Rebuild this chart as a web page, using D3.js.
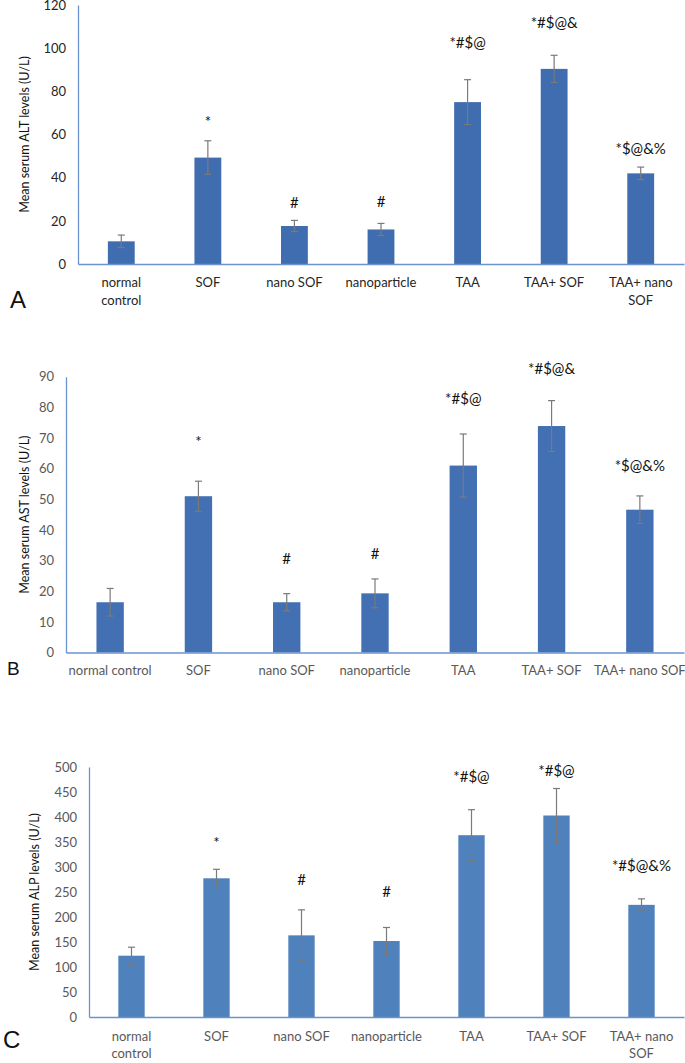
<!DOCTYPE html>
<html>
<head>
<meta charset="utf-8">
<script src="https://cdn.jsdelivr.net/npm/d3@7"></script>
<style>
  body { margin: 0; background: #fff; }
  svg { display: block; font-family: Lato, 'Open Sans', sans-serif; }
</style>
</head>
<body>
<svg id="chart" width="685" height="1063"></svg>
<script>
const CATEGORIES = ['normal control', 'SOF', 'nano SOF', 'nanoparticle', 'TAA', 'TAA+ SOF', 'TAA+ nano SOF'];

// panel A - ALT
const ALT_MEAN = [10.5, 49.3, 17.6, 16.0, 75.0, 90.4, 42.0];
const ALT_ERR = [2.9, 7.8, 2.6, 2.8, 10.4, 6.3, 2.9];
const ALT_MARKS = ['', '*', '#', '#', '*#$@', '*#$@&', '*$@&%'];
const ALT_MARK_AT = [0, 65.7, 28.2, 28.8, 102.5, 111.7, 53.2];
const ALT_TICKS = [0, 20, 40, 60, 80, 100, 120];

// panel B - AST
const AST_MEAN = [16.4, 51.0, 16.4, 19.3, 61.0, 73.9, 46.6];
const AST_ERR = [4.5, 4.9, 2.8, 4.7, 10.3, 8.3, 4.5];
const AST_MARKS = ['', '*', '#', '#', '*#$@', '*#$@&', '*$@&%'];
const AST_MARK_AT = [0, 68.7, 30.7, 32.3, 82.9, 92.7, 61.1];
const AST_TICKS = [0, 10, 20, 30, 40, 50, 60, 70, 80, 90];

// panel C - ALP
const ALP_MEAN = [122.6, 277.4, 163.3, 152.0, 363.6, 403.0, 224.3];
const ALP_ERR = [17, 18, 51, 27, 51, 54, 12];
const ALP_MARKS = ['', '*', '#', '#', '*#$@', '*#$@', '*#$@&%'];
const ALP_MARK_AT = [0, 348, 275, 250, 480, 493, 303];
const ALP_TICKS = [0, 50, 100, 150, 200, 250, 300, 350, 400, 450, 500];

const svg = d3.select('#chart');

const panels = [
  { letter: 'A', title: 'Mean serum ALT levels (U/L)', mean: ALT_MEAN, err: ALT_ERR, marks: ALT_MARKS, markAt: ALT_MARK_AT, ticks: ALT_TICKS,
    left: 78, right: 684, top: 5, bottom: 264, wrap: true, lineGap: 17.5, labelOffset: 23,
    barColor: '#3f6db0', textColor: '#262626', titleX: 25, letterX: 10, letterY: 308, letterSize: 24 },
  { letter: 'B', title: 'Mean serum AST levels (U/L)', mean: AST_MEAN, err: AST_ERR, marks: AST_MARKS, markAt: AST_MARK_AT, ticks: AST_TICKS,
    left: 66, right: 684, top: 376.7, bottom: 652.5, wrap: false, lineGap: 0, labelOffset: 22,
    barColor: '#4270b2', textColor: '#595959', titleX: 25, letterX: 7, letterY: 675, letterSize: 19 },
  { letter: 'C', title: 'Mean serum ALP levels (U/L)', mean: ALP_MEAN, err: ALP_ERR, marks: ALP_MARKS, markAt: ALP_MARK_AT, ticks: ALP_TICKS,
    left: 89, right: 684, top: 767, bottom: 1017, wrap: true, lineGap: 16.7, labelOffset: 24,
    barColor: '#4f81bd', textColor: '#595959', titleX: 35, letterX: 3, letterY: 1048, letterSize: 24 }
];

const AXIS_COLOR = '#6a93cf';

function drawPanel(p) {
  const g = svg.append('g');
  const data = CATEGORIES.map((c, i) => ({ cat: c, mean: p.mean[i], err: p.err[i], mark: p.marks[i], at: p.markAt[i] }));

  const x = d3.scaleBand().domain(CATEGORIES).range([p.left, p.right]).paddingInner(0.69).paddingOuter(0.345);
  const y = d3.scaleLinear().domain([0, d3.max(p.ticks)]).range([p.bottom, p.top]);

  // y axis
  const yAxis = g.append('g')
    .attr('transform', `translate(${p.left},0)`)
    .call(d3.axisLeft(y).tickValues(p.ticks).tickSize(0).tickPadding(12).tickSizeOuter(0));
  yAxis.select('.domain').attr('stroke', AXIS_COLOR).attr('stroke-width', 1.3);
  yAxis.selectAll('text').attr('font-size', 13).attr('fill', p.textColor).attr('font-family', 'Lato, sans-serif');

  // bars
  g.selectAll('.bar').data(data).enter().append('rect')
    .attr('class', 'bar')
    .attr('x', d => x(d.cat))
    .attr('width', x.bandwidth())
    .attr('y', d => y(d.mean))
    .attr('height', d => y(0) - y(d.mean))
    .attr('fill', p.barColor);

  // error bars
  const eb = g.selectAll('.err').data(data).enter().append('g').attr('class', 'err')
    .attr('stroke', '#7a7a7a').attr('stroke-width', 1.2);
  eb.append('line')
    .attr('x1', d => x(d.cat) + x.bandwidth() / 2).attr('x2', d => x(d.cat) + x.bandwidth() / 2)
    .attr('y1', d => y(d.mean + d.err)).attr('y2', d => y(d.mean - d.err));
  eb.append('line')
    .attr('x1', d => x(d.cat) + x.bandwidth() / 2 - 3.5).attr('x2', d => x(d.cat) + x.bandwidth() / 2 + 3.5)
    .attr('y1', d => y(d.mean + d.err)).attr('y2', d => y(d.mean + d.err));
  eb.append('line')
    .attr('x1', d => x(d.cat) + x.bandwidth() / 2 - 3.5).attr('x2', d => x(d.cat) + x.bandwidth() / 2 + 3.5)
    .attr('y1', d => y(d.mean - d.err)).attr('y2', d => y(d.mean - d.err));

  // x axis
  const xAxis = g.append('g')
    .attr('transform', `translate(0,${p.bottom})`)
    .call(d3.axisBottom(x).tickSize(0).tickSizeOuter(0));
  xAxis.select('.domain').attr('stroke', AXIS_COLOR).attr('stroke-width', 1.3);
  xAxis.selectAll('text')
    .attr('font-size', 13).attr('fill', p.textColor).attr('font-family', 'Lato, sans-serif')
    .attr('y', p.labelOffset).attr('dy', null)
    .each(function(d) {
      const t = d3.select(this);
      if (!p.wrap) return;
      const words = d.split(' ');
      const lines = [];
      let cur = [];
      t.text(null);
      const probe = t.append('tspan');
      words.forEach(w => {
        const test = cur.concat([w]).join(' ');
        probe.text(test);
        if (cur.length && probe.node().getComputedTextLength() > 76) {
          lines.push(cur.join(' '));
          cur = [w];
        } else {
          cur.push(w);
        }
      });
      lines.push(cur.join(' '));
      probe.remove();
      lines.forEach((ln, i) => {
        t.append('tspan').attr('x', 0).attr('y', p.labelOffset + i * p.lineGap).text(ln);
      });
    });

  // significance marks
  g.selectAll('.mark').data(data.filter(d => d.mark)).enter().append('text')
    .attr('class', 'mark')
    .attr('x', d => x(d.cat) + x.bandwidth() / 2)
    .attr('y', d => y(d.at))
    .attr('dy', '0.35em')
    .attr('text-anchor', 'middle')
    .attr('font-size', 15)
    .attr('fill', '#111')
    .text(d => d.mark);

  // y title
  g.append('text')
    .attr('transform', `translate(${p.titleX},${(p.top + p.bottom) / 2}) rotate(-90)`)
    .attr('text-anchor', 'middle')
    .attr('dy', '0.35em')
    .attr('font-size', 12.5)
    .attr('fill', '#111')
    .text(p.title);

  // panel letter
  g.append('text')
    .attr('x', p.letterX).attr('y', p.letterY)
    .attr('font-family', "'Liberation Sans', Arial, sans-serif")
    .attr('font-size', p.letterSize)
    .attr('fill', '#111')
    .text(p.letter);
}

panels.forEach(drawPanel);
</script>
</body>
</html>
